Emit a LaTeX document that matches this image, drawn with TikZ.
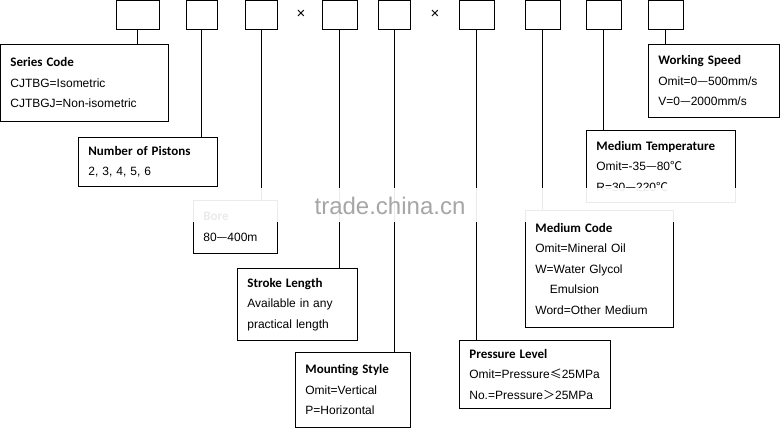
\documentclass[tikz,border=0pt]{standalone}
\usepackage{fontspec}
\setmainfont{Liberation Sans}
\newfontfamily\ttl{Carlito}
\newfontfamily\cjk{Noto Sans CJK SC}
\begin{document}
\begin{tikzpicture}[x=1pt,y=-1pt,
  top/.style={draw,line width=0.8pt,minimum height=29pt,inner sep=0pt},
  lbl/.style 2 args={draw,line width=0.8pt,anchor=north west,align=left,inner xsep=10pt,inner ysep=4pt,
     text width=#1pt-20pt,minimum height=#2pt,font=\fontsize{12}{20.5}\selectfont},
  ln/.style={line width=0.8pt}]
\useasboundingbox (0,0) rectangle (780,430);
\def\T#1{{\ttl\bfseries\fontsize{13}{20}\selectfont #1}}
% top boxes
\node[top,minimum width=43pt] (b1) at (137.5,14.5) {};
\node[top,minimum width=31pt] (b2) at (201.5,14.5) {};
\node[top,minimum width=32pt] (b3) at (261,14.5) {};
\node (x1) at (301,14) {\fontsize{15}{15}\selectfont×};
\node[top,minimum width=35pt] (b4) at (339.5,14.5) {};
\node[top,minimum width=32pt] (b5) at (394,14.5) {};
\node (x2) at (435,14) {\fontsize{15}{15}\selectfont×};
\node[top,minimum width=35pt] (b6) at (476.5,14.5) {};
\node[top,minimum width=35pt] (b7) at (542.5,14.5) {};
\node[top,minimum width=35pt] (b8) at (603.5,14.5) {};
\node[top,minimum width=35pt] (b9) at (665.5,14.5) {};
% label boxes
\node[lbl={168}{77}] (s1) at (0,44) {\T{Series Code}\\CJTBG=Isometric\\CJTBGJ=Non-isometric};
\node[lbl={139}{49}] (s2) at (78,137) {\T{Number of Pistons}\\2, 3, 4, 5, 6};
\node[lbl={84}{53}] (s3) at (193,200) {\T{Bore}\\80{\cjk —}400m};
\node[lbl={120}{72}] (s4) at (237,268) {\T{Stroke Length}\\Available in any\\practical length};
\node[lbl={115}{75}] (s5) at (295,352) {\T{Mounting Style}\\Omit=Vertical\\P=Horizontal};
\node[lbl={151}{68}] (s6) at (459,340) {\T{Pressure Level}\\Omit=Pressure{\cjk ≤}25MPa\\No.=Pressure{\cjk ＞}25MPa};
\node[lbl={148}{117}] (s7) at (525,210) {\T{Medium Code}\\Omit=Mineral Oil\\W=Water Glycol\\\hspace*{1.2em}Emulsion\\Word=Other Medium};
\node[lbl={149}{72}] (s8) at (586,130) {\T{Medium Temperature}\\Omit=-35{\cjk —}80{\cjk ℃}\\R=30{\cjk —}220{\cjk ℃}};
\node[lbl={131}{73}] (s9) at (648,44) {\T{Working Speed}\\Omit=0{\cjk —}500mm/s\\V=0{\cjk —}2000mm/s};
% connectors
\draw[ln] (b1.south) -- (b1.south |- s1.north);
\draw[ln] (b2.south) -- (b2.south |- s2.north);
\draw[ln] (b3.south) -- (b3.south |- s3.north);
\draw[ln] (b4.south) -- (b4.south |- s4.north);
\draw[ln] (b5.south) -- (b5.south |- s5.north);
\draw[ln] (b6.south) -- (b6.south |- s6.north);
\draw[ln] (b7.south) -- (b7.south |- s7.north);
\draw[ln] (b8.south) -- (b8.south |- s8.north);
\draw[ln] (b9.south) -- (b9.south |- s9.north);
% watermark band
\fill[white,opacity=0.92] (0,188) rectangle (780,222);
\node[text=gray!70,font=\fontsize{24}{24}\selectfont] (wm) at (390,206) {trade.china.cn};
\end{tikzpicture}
\end{document}
